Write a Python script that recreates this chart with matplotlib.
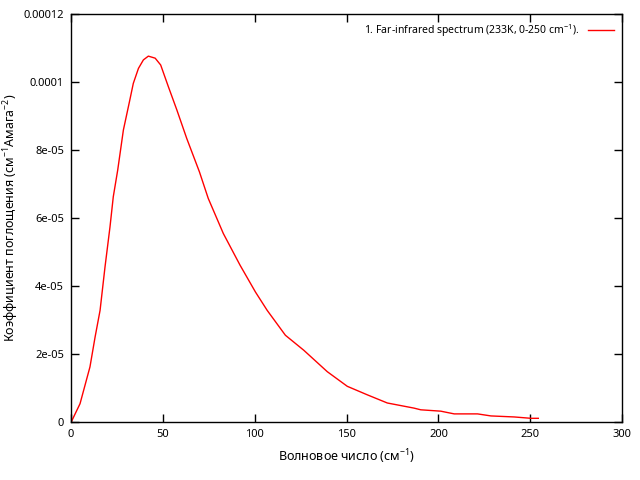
import numpy as np
import matplotlib
matplotlib.use('Agg')
import matplotlib.pyplot as plt

plt.rcParams['font.family'] = ['Noto Sans', 'DejaVu Sans']
plt.rcParams['mathtext.fontset'] = 'custom'
plt.rcParams['mathtext.rm'] = 'Noto Sans'
plt.rcParams['mathtext.it'] = 'Noto Sans'

# far-infrared spectrum (x in cm-1, y in 1e-5 cm-1 amagat-2)
wavenumber = [0, 4.9, 10.3, 13.1, 15.8, 18.5, 21.2, 23.0, 25.4, 28.5, 31.8, 33.9,
              36.7, 39.4, 42.1, 45.8, 48.8, 53.0, 57.6, 63.0, 69.9, 74.7, 82.9,
              92.0, 100.4, 106.8, 116.7, 126.7, 139.5, 150.4, 161.3, 172.2, 186.7,
              190.4, 201.3, 204.0, 208.6, 221.3, 228.6, 241.3, 250.4, 254.4]
absorption_e5 = [0, 0.55, 1.63, 2.51, 3.29, 4.57, 5.74, 6.63, 7.41, 8.59, 9.42, 9.96,
                 10.4, 10.65, 10.76, 10.7, 10.5, 9.86, 9.18, 8.34, 7.36, 6.58, 5.55,
                 4.62, 3.83, 3.29, 2.56, 2.12, 1.49, 1.06, 0.81, 0.57, 0.42,
                 0.37, 0.33, 0.30, 0.25, 0.25, 0.19, 0.16, 0.12, 0.12]
absorption = np.array(absorption_e5) * 1e-5

xticks = [0, 50, 100, 150, 200, 250, 300]
yticks = [0, 2e-5, 4e-5, 6e-5, 8e-5, 1e-4, 1.2e-4]
ytick_labels = ['0', '2e-05', '4e-05', '6e-05', '8e-05', '0.0001', '0.00012']

fig = plt.figure(figsize=(6.4, 4.8), dpi=100)
ax = fig.add_axes([0.111, 0.12, 0.861, 0.851])

ax.plot(wavenumber, absorption, color='red', lw=1,
        label='1. Far-infrared spectrum (233K, 0-250 cm$^{-1}$).')

ax.set_xlim(0, 300)
ax.set_ylim(0, 1.2e-4)
ax.set_xticks(xticks)
ax.set_yticks(yticks)
ax.set_yticklabels(ytick_labels)
ax.tick_params(direction='in', length=6, width=1, top=True, right=True,
               labelsize=8, pad=5)
for s in ax.spines.values():
    s.set_linewidth(1)

ax.set_xlabel('Волновое число (см$^{-1}$)', fontsize=9)
ax.set_ylabel('Коэффициент поглощения (см$^{-1}$Амага$^{-2}$)', fontsize=9)
ax.yaxis.set_label_coords(-0.09, 0.5)
ax.xaxis.set_label_coords(0.5, -0.06)

ax.legend(loc='upper right', frameon=False, markerfirst=False, fontsize=7.5,
          handlelength=2.5, borderaxespad=0.4)

fig.savefig('out.png', dpi=100)
